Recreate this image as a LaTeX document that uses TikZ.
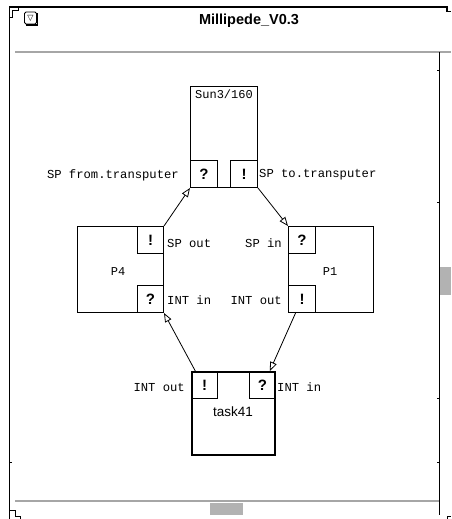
\documentclass[tikz,border=0pt]{standalone}
\usepackage{fontspec}
\setmainfont{Liberation Sans}
\newfontfamily\monof{Liberation Mono}
\newfontfamily\djv{DejaVu Sans}
\usetikzlibrary{arrows.meta,calc}
\begin{document}
\begin{tikzpicture}[x=1pt,y=-1pt,
  box/.style={draw, line width=1pt, inner sep=0pt, anchor=north west},
  port/.style={draw, line width=1pt, inner sep=0pt, minimum width=27pt, minimum height=27pt, font=\fontsize{15}{15}\selectfont\bfseries},
  lbl/.style={font=\monof\fontsize{12.2}{13}\selectfont, inner sep=0pt},
  conn/.style={line width=0.8pt, -{Triangle[open,length=9pt,width=7pt]}},
  frame/.style={line width=1.6pt, black},
  gline/.style={line width=2pt, gray!70},
  thumb/.style={fill=gray!60, draw=none}
]
\useasboundingbox (0,0) rectangle (451,519);
% ---------- window frame ----------
\draw[frame] (9.5,519) -- (9.5,7) -- (447,7) -- (447,11.5) -- (451,11.5);
\draw[line width=1pt] (9.5,18) -- (12.5,18) -- (12.5,11) -- (18,11) -- (18,7);
\draw[line width=1pt] (9.5,510) -- (15,510) -- (15,516.5) -- (20,516.5) -- (20,519);
\draw[gline] (15,52) -- (451,52);
\draw[gline] (15,501) -- (439,501);
\draw[line width=0.8pt] (439,52) -- (439,515);
\draw[line width=0.8pt] (447,519) -- (447,516) -- (451,516);
\foreach \yy in {70,202,398,462} \draw[line width=0.6pt] (437,\yy) -- (439,\yy);
\draw[line width=0.6pt] (10,462) -- (12,462);
\fill[thumb] (440,267) rectangle (451,295);
\fill[thumb] (210,503) rectangle (243,515);
% title bar
\node[draw, line width=0.8pt, rounded corners=1.5pt, minimum width=12pt, minimum height=12pt, inner sep=0pt,
      font=\djv\fontsize{8}{8}\selectfont] (menu) at (30.5,18) {▽};
\draw[line width=1.2pt] ($(menu.south west)+(1.5,0.6)$) -- ($(menu.south east)+(0.6,0.6)$) -- ($(menu.north east)+(0.6,1.5)$);
\node[font=\fontsize{14.5}{15}\selectfont\bfseries] (title) at (249,21) {Millipede\_V0.3};
% ---------- diagram ----------
% Sun3/160
\node[box, minimum width=67pt, minimum height=101pt] (sun) at (190,86) {};
\node[font=\monof\fontsize{12}{13}\selectfont, anchor=north, inner sep=0pt] (sunlbl) at ($(sun.north)+(0,4)$) {Sun3/160};
\node[port, anchor=south west] (sunin) at (sun.south west) {?};
\node[port, anchor=south east] (sunout) at (sun.south east) {!};
\node[lbl, anchor=east] (lsunin) at (179,175) {SP from.transputer};
\node[lbl, anchor=west] (lsunout) at (259,175) {SP to.transputer};
% P4
\node[box, minimum width=86pt, minimum height=86pt] (p4) at (77,226) {};
\node[font=\monof\fontsize{12}{13}\selectfont] (p4lbl) at (118,272) {P4};
\node[port, anchor=north east, minimum width=26pt] (p4out) at (p4.north east) {!};
\node[port, anchor=south east, minimum width=26pt] (p4in) at (p4.south east) {?};
\node[lbl, anchor=west] (lp4out) at (167,243) {SP out};
\node[lbl, anchor=west] (lp4in) at (167,300) {INT in};
% P1
\node[box, minimum width=85pt, minimum height=86pt] (p1) at (288,226) {};
\node[font=\monof\fontsize{12}{13}\selectfont] (p1lbl) at (330,272) {P1};
\node[port, anchor=north west] (p1in) at (p1.north west) {?};
\node[port, anchor=south west] (p1out) at (p1.south west) {!};
\node[lbl, anchor=east] (lp1in) at (282,243) {SP in};
\node[lbl, anchor=east] (lp1out) at (282,300) {INT out};
% task41
\node[box, line width=2pt, minimum width=83pt, minimum height=83pt] (task) at (191,371) {};
\node[font=\fontsize{13.5}{14}\selectfont] (tasklbl) at (233,412) {task41};
\node[port, anchor=north west, minimum width=26pt] (taskout) at (task.north west) {!};
\node[port, anchor=north east, minimum width=26pt] (taskin) at (task.north east) {?};
\node[lbl, anchor=east] (ltaskout) at (185,387) {INT out};
\node[lbl, anchor=west] (ltaskin) at (277,387) {INT in};
% ---------- connectors ----------
\coordinate (c3s) at ($(p1out.south west)!0.27!(p1out.south east)$);
\coordinate (c3e) at ($(taskin.north west)!0.77!(taskin.north east)$);
\coordinate (c4s) at ($(taskout.north west)!0.16!(taskout.north east)$);
\draw[conn] (p4out.north east) -- (sunin.south west);
\draw[conn] (sunout.south east) -- (p1in.north west);
\draw[conn] (c3s) -- (c3e);
\draw[conn] (c4s) -- (p4in.south east);
\end{tikzpicture}
\end{document}
